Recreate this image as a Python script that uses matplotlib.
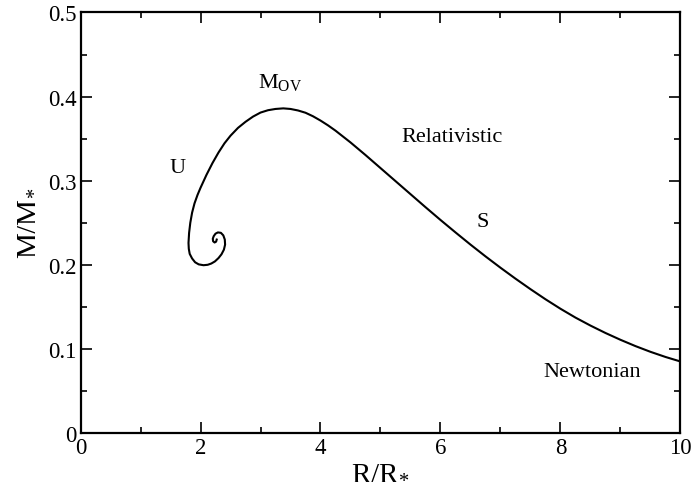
import numpy as np
import matplotlib.pyplot as plt
from matplotlib.ticker import MultipleLocator, FuncFormatter

plt.rcParams['font.family'] = ['Liberation Serif', 'DejaVu Serif']
plt.rcParams['mathtext.fontset'] = 'custom'
plt.rcParams['mathtext.rm'] = 'Liberation Serif'
plt.rcParams['mathtext.it'] = 'Liberation Serif:italic'

# mass-radius curve, from the Newtonian end in to the central spiral
radius = [10.0, 9.75, 9.5, 9.25, 9.0, 8.75, 8.5, 8.25, 8.0, 7.75, 7.5, 7.25,
          7.0, 6.75, 6.5, 6.25, 6.0, 5.75, 5.5, 5.25, 5.0, 4.75, 4.5, 4.25,
          4.125, 4.0, 3.875, 3.75, 3.625, 3.5, 3.38, 3.25, 3.125, 3.0, 2.875,
          2.75, 2.625, 2.5, 2.4, 2.3, 2.2, 2.1, 2.0, 1.95, 1.9, 1.86, 1.83,
          1.81, 1.80, 1.805, 1.82, 1.86, 1.91, 1.97, 2.05, 2.12, 2.18, 2.24,
          2.30, 2.35, 2.39, 2.41, 2.405, 2.38, 2.34, 2.29, 2.25, 2.22, 2.205,
          2.21, 2.235, 2.26, 2.27]
mass = [0.085, 0.0904, 0.0965, 0.1033, 0.1108, 0.1189, 0.1277, 0.1372, 0.1477,
        0.159, 0.171, 0.1835, 0.1965, 0.210, 0.224, 0.2385, 0.2533, 0.2685,
        0.284, 0.2995, 0.315, 0.3305, 0.3455, 0.3595, 0.3658, 0.3715, 0.3766,
        0.3808, 0.3835, 0.3853, 0.386, 0.3853, 0.3838, 0.381, 0.3762, 0.370,
        0.3628, 0.3535, 0.3445, 0.3335, 0.321, 0.307, 0.2915, 0.283, 0.273,
        0.262, 0.250, 0.238, 0.226, 0.219, 0.213, 0.2075, 0.203, 0.2005,
        0.1995, 0.200, 0.2015, 0.204, 0.208, 0.2125, 0.218, 0.224, 0.230,
        0.235, 0.238, 0.2385, 0.237, 0.234, 0.231, 0.228, 0.2265, 0.2275,
        0.230]

labels = ['U', 'Relativistic', 'S', 'Newtonian']
label_x = [1.61, 6.19, 6.71, 8.53]
label_y = [0.316, 0.353, 0.252, 0.073]

fig = plt.figure(figsize=(6.91, 4.89), dpi=100)
ax = fig.add_axes([0.1165, 0.1125, 0.8683, 0.8599])

ax.plot(radius, mass, color='black', lw=1.5, solid_joinstyle='round')

for txt, lx, ly in zip(labels, label_x, label_y):
    ax.text(lx, ly, txt, fontsize=16, ha='center', va='center')
ax.text(2.96, 0.411, r'$\mathrm{M}_{\mathrm{OV}}$', fontsize=16,
        ha='left', va='baseline')

ax.set_xlim(0, 10)
ax.set_ylim(0, 0.5)
ax.xaxis.set_major_locator(MultipleLocator(2))
ax.xaxis.set_minor_locator(MultipleLocator(1))
ax.yaxis.set_major_locator(MultipleLocator(0.1))
ax.yaxis.set_minor_locator(MultipleLocator(0.05))
ax.xaxis.set_major_formatter(FuncFormatter(lambda v, p: '%g' % v))
ax.yaxis.set_major_formatter(FuncFormatter(lambda v, p: '%g' % round(v, 2)))

ax.tick_params(which='both', direction='in', top=True, right=True,
               labelsize=16.5, width=1.2)
ax.tick_params(which='major', length=8, pad=3)
ax.tick_params(which='minor', length=4.3)
for s in ax.spines.values():
    s.set_linewidth(1.6)

ax.set_xlabel(r'$\mathrm{R/R}_{*}$', fontsize=21, labelpad=0)
ax.set_ylabel(r'$\mathrm{M/M}_{*}$', fontsize=21, labelpad=6)

fig.savefig('out.png', dpi=100)
